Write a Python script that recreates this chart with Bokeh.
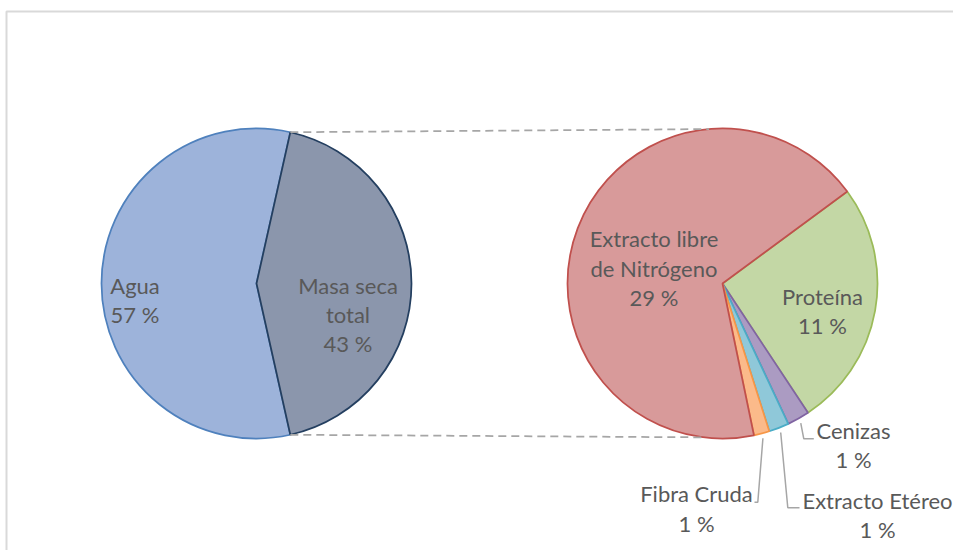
import math
from bokeh.plotting import figure
from bokeh.models import Range1d, ColumnDataSource
from bokeh.embed import file_html
from bokeh.resources import INLINE
from bokeh.core.properties import value

# ---------------- data ----------------
main_names = ["Agua", "Masa seca total"]
main_values = [57, 43]
sub_names = ["Proteína", "Cenizas", "Extracto Etéreo", "Fibra Cruda",
             "Extracto libre de Nitrógeno"]
sub_values = [11.1, 1.0, 0.9, 0.7, 29.3]

# label text split into lines
main_label_lines = [["Agua"], ["Masa seca", "total"]]
sub_label_lines = [["Proteína"], ["Cenizas"], ["Extracto Etéreo"], ["Fibra Cruda"],
                   ["Extracto libre", "de Nitrógeno"]]

# ---------------- styles / layout ----------------
main_fill = ["#9db3da", "#8b96ac"]
main_line = ["#4f81bd", "#243f60"]
sub_fill = ["#c3d7a5", "#ab9bc2", "#8fc8d9", "#fbba8a", "#d89a9a"]
sub_line = ["#9bbb59", "#8064a2", "#4bacc6", "#f79646", "#c0504d"]
TEXT_COLOR = "#595959"
FONT = "Lato"
FONT_SIZE = "22px"
LINE_STEP = 29.3
TEXT_DY = 8.5

R = 155
CY = 267
CX_L = 256
CX_R = 722
ROT_R = math.radians(36.4)

# label anchor (x center, first baseline y) in plot units
main_label_pos = [(134.5, 257), (347.5, 257)]
sub_label_pos = [(822, 246), (853, 111.7), (877, 41.7), (696, 48.3), (653.5, 303.3)]
# leader line knees for the small slices (index -> (knee, end))
leaders = {1: ((803.3, 111.7), (813.3, 111.7)),
           2: ((787.3, 42.7), (799, 42.7)),
           3: ((757.3, 48.3), (754, 48.3))}

W, H = 953, 550
p = figure(width=W, height=H, x_range=Range1d(0, W), y_range=Range1d(0, H),
           output_backend="svg", toolbar_location=None, min_border=0)
p.axis.visible = False
p.grid.visible = False
p.outline_line_color = None
p.background_fill_color = "white"
p.border_fill_color = "white"

# chart frame
p.line(x=[6, 6, 953], y=[0, 539, 539], line_color="#d9d9d9", line_width=2)

# ---------------- left pie ----------------
tot_main = sum(main_values)
half = main_values[1] / tot_main * math.pi
left_src = ColumnDataSource(dict(
    x=[CX_L, CX_L], y=[CY, CY],
    start=[half, -half], end=[2 * math.pi - half, half],
    fill=main_fill, line=main_line))
p.wedge(x="x", y="y", radius=R, start_angle="start", end_angle="end",
        fill_color="fill", line_color="line", line_width=1.75, source=left_src)

# ---------------- right pie ----------------
tot_sub = sum(sub_values)
starts, ends, mids = [], [], []
cum = 0.0
for v in sub_values:
    a0 = ROT_R - cum
    cum += v / tot_sub * 2 * math.pi
    a1 = ROT_R - cum
    starts.append(a1)
    ends.append(a0)
    mids.append((a0 + a1) / 2)
right_src = ColumnDataSource(dict(
    x=[CX_R] * len(sub_values), y=[CY] * len(sub_values),
    start=starts, end=ends, fill=sub_fill, line=sub_line))
p.wedge(x="x", y="y", radius=R, start_angle="start", end_angle="end",
        fill_color="fill", line_color="line", line_width=1.75, source=right_src)

# ---------------- connector lines ----------------
top_r = math.radians(95)
bot_r = math.radians(-97)
p.line(x=[CX_L + R * math.cos(half), CX_R + R * math.cos(top_r)],
       y=[CY + R * math.sin(half), CY + R * math.sin(top_r)],
       line_color="#a6a6a6", line_width=1.75, line_dash="8 5")
p.line(x=[CX_L + R * math.cos(-half), CX_R + R * math.cos(bot_r)],
       y=[CY + R * math.sin(-half), CY + R * math.sin(bot_r)],
       line_color="#a6a6a6", line_width=1.75, line_dash="8 5")

# ---------------- leader lines ----------------
for i, (knee, end) in leaders.items():
    sx = CX_R + (R + 5) * math.cos(mids[i])
    sy = CY + (R + 5) * math.sin(mids[i])
    p.line(x=[sx, knee[0], end[0]], y=[sy, knee[1], end[1]],
           line_color="#a6a6a6", line_width=1.5)

# ---------------- labels ----------------
tx, ty, tt = [], [], []
def add_label(lines, val, pos):
    all_lines = list(lines) + [f"{round(val)} %"]
    x0, y0 = pos
    for k, t in enumerate(all_lines):
        tx.append(x0)
        ty.append(y0 + TEXT_DY - k * LINE_STEP)
        tt.append(t)

for lines, v, pos in zip(main_label_lines, main_values, main_label_pos):
    add_label(lines, v, pos)
for lines, v, pos in zip(sub_label_lines, sub_values, sub_label_pos):
    add_label(lines, v, pos)

p.text(x=tx, y=ty, text=tt, text_font=value(FONT), text_font_size=FONT_SIZE,
       text_color=TEXT_COLOR, text_align="center", text_baseline="alphabetic")

open("out.html", "w").write(file_html(p, INLINE))
